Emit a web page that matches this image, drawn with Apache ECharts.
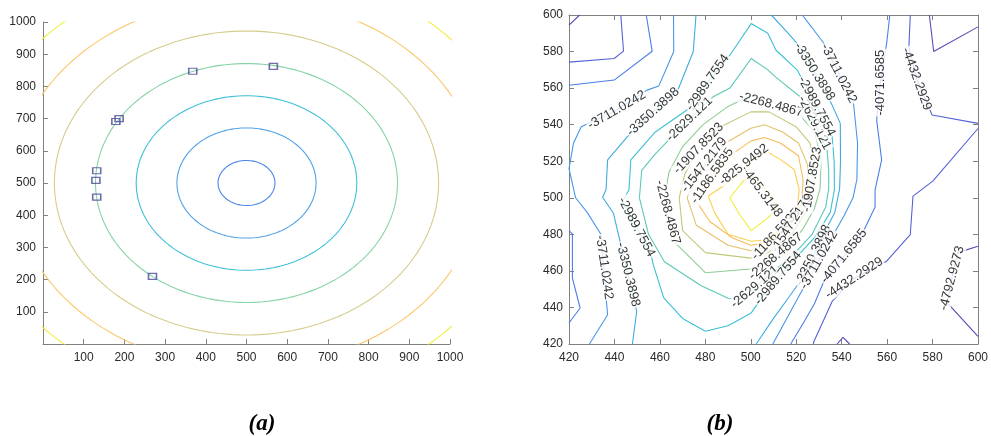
<!DOCTYPE html>
<html><head><meta charset="utf-8">
<script src="https://cdn.jsdelivr.net/npm/echarts@6.0.0/dist/echarts.min.js"></script>
<style>html,body{margin:0;padding:0;background:#fff}#c{width:991px;height:436px}</style>
</head><body><div id="c"></div>
<script>
// ---------- Panel (a) ----------
const leftCenter = [500, 500];
const leftRadii = [70, 171, 271, 371, 472, 572, 672];
const leftColors = ['#4a86ec', '#52a2e8', '#3ec0d8', '#86d4a6', '#d6cc8c', '#fcc66a', '#f2ee3c'];
const markerX = [368, 566, 179, 187, 132, 130, 132, 269];
const markerY = [847, 862, 691, 700, 538, 508, 456, 210];

// ---------- Panel (b) ----------
const rightLevels = [-465.3148, -825.9492, -1186.5835, -1547.2179, -1907.8523, -2268.4867, -2629.121,
  -2989.7554, -3350.3898, -3711.0242, -4071.6585, -4432.2929, -4792.9273];
const rightColors = ['#f4ea3a', '#fbd04c', '#f8bd5a', '#e2c26a', '#c0c87a', '#8fcc94', '#5cc8b6',
  '#3cc0d4', '#3eabe2', '#4896e8', '#4a7ee8', '#5562d6', '#5a48b4'];

const lv465 = [[[490.8,500],[496.6,509],[499,512],[506,505],[512,495],[507.5,489],[500.2,482],[495,491],[490.8,500]]];
const lv826 = [[[481.3,501],[488.6,507],[495,513],[500,520],[506.8,525.5],[513,521],[519.2,515.3],[521.3,504.4],[520.3,491.7],[515,484],[507.5,477],[500.2,476.2],[490,480],[484,492],[481.3,501]]];
const lv1187 = [[[476,498],[481,509],[486,517],[493,525],[500,531],[506,533],[513,530],[521,523],[523,510],[522.5,497],[516,485],[507.5,475.5],[500,474],[492,478],[482,487],[476,498]]];
const lv1547 = [[[472,500],[475,509],[480,518],[489,530],[500,538],[506,540],[514,536],[521,530],[525,518],[525,503],[522,492],[516,483],[507.5,473],[500,471],[490,474],[476,485],[472,500]]];
const lv1908 = [[[468.5,500],[471,513],[477,527],[487,539],[500,547],[508,547],[519.9,538.9],[526,530],[528.2,520],[527.5,505],[524,492],[518,480],[507.5,470],[500,467],[480,470],[470,482],[468.5,500]]];
const lv2268 = [[[462,500],[464,514],[470,528],[479,540],[490,550],[500,556],[510,552],[521,546],[528,536],[531,522],[530.5,505],[528,494],[523,483],[516,472],[507.5,464],[500,461],[480,459],[467,475],[463,490],[462,500]]];
const lv2629 = [[[451,500],[452,515],[458,524],[463.2,530.7],[473,543],[483.5,555.3],[490.8,560],[500.2,576.2],[507.5,570],[511,566],[522,555],[528,541],[533.6,526],[534.3,515],[534.3,505],[533,495],[527,480],[518,468],[508.3,458],[501.8,451],[495,444.5],[490,445],[478,452],[462,465],[455,480],[451,500]]];
const lv2990 = [[[443.5,498],[446.4,504.4],[447.2,520.7],[458,536],[471.9,548],[481,563],[490.8,578],[500.2,595.3],[507.5,590],[511.1,580.7],[520.5,569.8],[529,550],[535.8,533.5],[536.7,520],[536.8,504.4],[535,492],[528,478],[518.4,465.3],[512,456],[505.4,446.2],[500.2,437],[490,430],[480,427],[470,434],[461.7,445.2],[457.3,462.5],[455.9,469.8],[449.7,484],[443.5,498]]];
const lv3350 = [
  [[447.9,420],[449.8,437.9],[446,458],[442.1,478.1],[439.5,491.7],[434.8,500.3],[436.3,504.4],[437,520.7],[445.7,533.5],[457,547],[468.2,559.8],[474.7,580],[475.9,600]],
  [[502.4,420],[510,434],[517,446],[522.8,456.2],[527.5,468],[532.2,480.7],[537,492],[539.1,505],[539.5,520],[539.4,540.7],[535.8,550.7],[528,569],[520.5,584.4],[515,592],[509,600]]
];
const lv3711 = [
  [[429,420],[437,436],[436,450],[435,465],[434.1,479.9],[428,492],[422.9,500],[420,516],[422,530],[425.4,538.9],[441,548],[454.4,558.9],[459.5,561.1],[466.1,580],[466,600]],
  [[509.7,420],[515,432],[522,448],[525,454.4],[530,466],[535.1,477],[541,490],[545,500],[546.7,510],[547,530],[545.2,551.7],[538.7,568],[532.2,584.4],[527,593],[522.7,600]]
];
const lv4072 = [
  [[420,561.6],[439.9,564.4],[456.6,580.2],[454,600]],
  [[420,482],[421.5,480.2],[421.5,456.1],[424.9,439.7],[420,431.5]],
  [[517.6,420],[523.4,432],[528,442],[532.2,454.3],[541,468],[549.6,481.7],[554.7,495],[554.7,504.3],[557.6,520.7],[555.4,542.5],[557,563],[559.8,584.4],[561.2,600]]
];
const lv4432 = [
  [[420,574.2],[439.9,576.2],[444,580.2],[442.8,600]],
  [[570.2,600],[569.6,582.5],[573,565],[579.8,545.3],[600,540.7]],
  [[600,537.9],[580.1,509.1],[571.4,500.9],[570.2,479.9],[559.8,465.3],[545.5,456],[535.8,443.3],[527.8,421.4],[527.5,420]]
];
const lv4793 = [
  [[420,594.5],[424.7,600]],
  [[578.6,600],[580.5,580],[600,593.5]],
  [[600,473.5],[591,470],[588.5,456],[586.6,442.4],[600,424.2]],
  [[538,420],[540.6,423.6],[543.5,420]]
];

// contour labels: level index, x, y, angle
const labLevel = [0, 1, 2, 3, 4, 2, 3, 4, 5, 5, 5, 6, 6, 6, 7, 7, 7, 7, 8, 8, 8, 8, 9, 9, 9, 9, 10, 10, 11, 11, 12];
const labX = [505, 497, 483, 479.5, 477, 511, 518, 527, 509, 463.5, 511, 473, 501.8, 528, 481, 449.7, 512, 529, 457, 446, 527.5, 528, 441, 435.5, 530, 538.7, 557, 541, 573, 545.5, 588.5];
const labY = [503, 518, 512, 518, 527, 480, 486, 510, 551, 492, 468, 543, 451.2, 541, 563, 484, 456, 550, 547, 458, 468.5, 569, 548, 462, 466, 568, 563, 468, 565, 456, 456];
const labRot = [-53, 38, 55, 52, 46, 47, 58, 80, -15, -75, 40, 44, 40, -63, 55, -62, 50, -62, 42, -76, 64, -58, 30, -82, 61, -63, 90, 51, -70, 33, 75];

const levelLines = [lv465, lv826, lv1187, lv1547, lv1908, lv2268, lv2629, lv2990, lv3350, lv3711, lv4072, lv4432, lv4793];

// ---------- build ----------
function circlePoints(c, r) {
  const pts = [];
  for (let d = 0; d <= 360; d += 2) {
    const a = d * Math.PI / 180;
    pts.push([c[0] + r * Math.cos(a), c[1] + r * Math.sin(a)]);
  }
  return pts;
}

const series = [];
leftRadii.forEach((r, i) => {
  series.push({type: 'line', xAxisIndex: 0, yAxisIndex: 0, data: circlePoints(leftCenter, r),
    showSymbol: false, symbol: 'none', clip: true, silent: true,
    lineStyle: {color: leftColors[i], width: 1.1}});
});
series.push({type: 'scatter', xAxisIndex: 0, yAxisIndex: 0, silent: true,
  data: markerX.map((x, i) => [x, markerY[i]]),
  symbol: 'rect', symbolSize: [8, 6],
  itemStyle: {color: 'rgba(255,255,255,0)', borderColor: '#4a4a98', borderWidth: 1.4}, z: 5});

levelLines.forEach((lines, li) => {
  lines.forEach(pl => {
    series.push({type: 'line', xAxisIndex: 1, yAxisIndex: 1, data: pl, showSymbol: false, symbol: 'none',
      clip: true, silent: true, lineStyle: {color: rightColors[li], width: 1.1}});
  });
});

series.push({type: 'scatter', xAxisIndex: 1, yAxisIndex: 1, silent: true, symbolSize: 1, clip: false,
  itemStyle: {color: 'rgba(0,0,0,0)'}, z: 10,
  labelLayout: {hideOverlap: false},
  data: labLevel.map((lv, i) => ({
    value: [labX[i], labY[i]],
    label: {show: true, position: 'inside', rotate: labRot[i], formatter: String(rightLevels[lv]),
      color: '#000', fontSize: 13, fontFamily: 'Liberation Sans, Arial, sans-serif',
      backgroundColor: '#fff', padding: [0, 1]}
  }))});

const axisCol = '#808080';
const tickLabel = {color: '#2a2a2a', fontSize: 12, fontFamily: 'Liberation Sans, Arial, sans-serif'};

const option = {
  animation: false,
  backgroundColor: '#fff',
  grid: [
    {left: 43, top: 22, width: 407, height: 322},
    {left: 569, top: 15, width: 413, height: 329}
  ],
  xAxis: [
    {gridIndex: 0, type: 'value', min: 0, max: 1000, interval: 100,
      axisLine: {onZero: false, lineStyle: {color: axisCol}},
      axisTick: {inside: true, length: 5, lineStyle: {color: axisCol}},
      axisLabel: Object.assign({margin: 8, formatter: v => v === 0 ? '' : String(v)}, tickLabel),
      splitLine: {show: false}},
    {gridIndex: 1, type: 'value', min: 420, max: 600, interval: 20, position: 'bottom',
      axisLine: {onZero: false, lineStyle: {color: axisCol}},
      axisTick: {inside: true, length: 5, lineStyle: {color: axisCol}},
      axisLabel: Object.assign({margin: 8}, tickLabel),
      splitLine: {show: false}},
    {gridIndex: 1, type: 'value', min: 420, max: 600, interval: 20, position: 'top',
      axisLine: {onZero: false, lineStyle: {color: axisCol}},
      axisTick: {inside: true, length: 5, lineStyle: {color: axisCol}},
      axisLabel: {show: false}, splitLine: {show: false}}
  ],
  yAxis: [
    {gridIndex: 0, type: 'value', min: 0, max: 1000, interval: 100,
      axisLine: {show: true, onZero: false, lineStyle: {color: axisCol}},
      axisTick: {show: true, inside: true, length: 5, lineStyle: {color: axisCol}},
      axisLabel: Object.assign({margin: 7, formatter: v => v === 0 ? '' : String(v)}, tickLabel),
      splitLine: {show: false}},
    {gridIndex: 1, type: 'value', min: 420, max: 600, interval: 20, position: 'left',
      axisLine: {show: true, onZero: false, lineStyle: {color: axisCol}},
      axisTick: {show: true, inside: true, length: 5, lineStyle: {color: axisCol}},
      axisLabel: Object.assign({margin: 6}, tickLabel),
      splitLine: {show: false}},
    {gridIndex: 1, type: 'value', min: 420, max: 600, interval: 20, position: 'right',
      axisLine: {show: true, onZero: false, lineStyle: {color: axisCol}},
      axisTick: {show: true, inside: true, length: 5, lineStyle: {color: axisCol}},
      axisLabel: {show: false}, splitLine: {show: false}}
  ],
  graphic: [
    {type: 'text', x: 262, y: 424, style: {text: '(a)', fill: '#000', font: 'italic bold 23px "Liberation Serif", "Times New Roman", serif',
      align: 'center', verticalAlign: 'middle', textAlign: 'center', textVerticalAlign: 'middle'}},
    {type: 'text', x: 720, y: 424, style: {text: '(b)', fill: '#000', font: 'italic bold 23px "Liberation Serif", "Times New Roman", serif',
      align: 'center', verticalAlign: 'middle', textAlign: 'center', textVerticalAlign: 'middle'}}
  ],
  series: series
};

const chart = echarts.init(document.getElementById('c'), null, {renderer: 'canvas'});
chart.setOption(option);
</script>
</body></html>
